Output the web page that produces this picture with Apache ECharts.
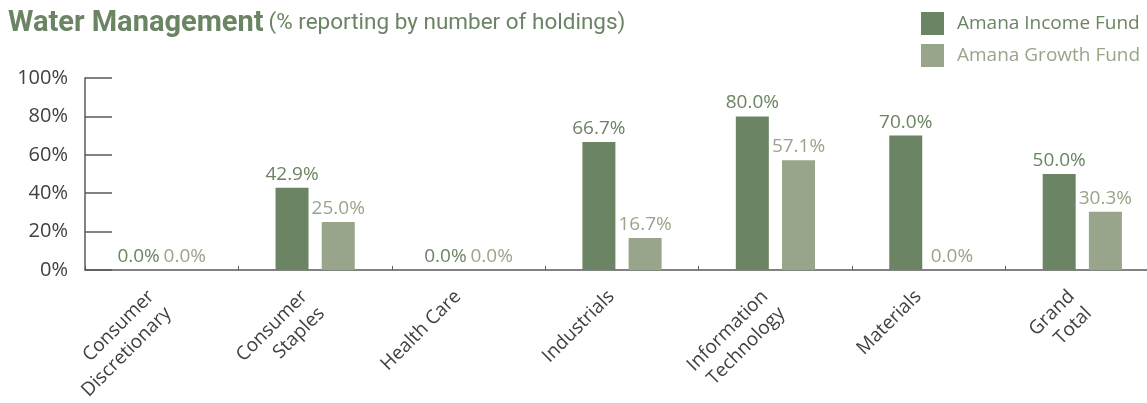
<!DOCTYPE html>
<html>
<head>
<meta charset="utf-8">
<script src="https://cdn.jsdelivr.net/npm/echarts@6/dist/echarts.min.js"></script>
<style>
  html, body { margin: 0; padding: 0; background: #fff; }
  #chart { width: 1147px; height: 403px; }
</style>
</head>
<body>
<div id="chart"></div>
<script>
const categories = [
  'Consumer\nDiscretionary',
  'Consumer\nStaples',
  'Health Care',
  'Industrials',
  'Information\nTechnology',
  'Materials',
  'Grand\nTotal'
]
const incomeFund = [0, 42.9, 0, 66.7, 80.0, 70.0, 50.0]
const growthFund = [0, 25.0, 0, 16.7, 57.1, 0, 30.3]
const yTicks = [0, 20, 40, 60, 80, 100]

const darkGreen = '#6b8463'
const lightGreen = '#98a58a'
const axisGray = '#5a5a5a'
const font = '"Open Sans", "Noto Sans", sans-serif'

const chart = echarts.init(document.getElementById('chart'))

const pctLabel = (color) => ({
  show: true,
  position: 'top',
  distance: 4,
  color: color,
  fontSize: 19,
  fontFamily: font,
  formatter: (p) => p.value.toFixed(1) + '%'
})

const option = {
  animation: false,
  title: {
    left: 8,
    top: 9,
    padding: 0,
    text: '{b|Water Management} {r|(% reporting by number of holdings)}',
    textStyle: {
      rich: {
        b: {
          fontFamily: 'Roboto, sans-serif',
          fontWeight: 'bold',
          fontSize: 29,
          color: darkGreen
        },
        r: {
          fontFamily: 'Roboto, sans-serif',
          fontWeight: 'normal',
          fontSize: 22.5,
          color: darkGreen
        }
      }
    }
  },
  legend: {
    orient: 'vertical',
    left: 921,
    top: 12,
    padding: 0,
    itemWidth: 23,
    itemHeight: 23,
    itemGap: 9,
    icon: 'rect',
    textStyle: { fontSize: 19, fontFamily: font, padding: [0, 0, 0, 8] },
    data: [
      { name: 'Amana Income Fund', textStyle: { color: darkGreen } },
      { name: 'Amana Growth Fund', textStyle: { color: lightGreen } }
    ]
  },
  grid: {
    left: 85,
    right: -12,
    top: 78,
    bottom: 133,
    outerBoundsMode: 'none'
  },
  xAxis: {
    type: 'category',
    data: categories,
    axisLine: { lineStyle: { color: axisGray, width: 1.5 } },
    axisTick: { show: true, inside: true, length: 4, lineStyle: { color: axisGray } },
    axisLabel: {
      rotate: 45,
      margin: -4,
      interval: 0,
      verticalAlign: 'top',
      padding: [0, 27, 0, 0],
      color: '#404040',
      fontSize: 19,
      fontFamily: font,
      lineHeight: 24
    }
  },
  yAxis: {
    type: 'value',
    min: yTicks[0],
    max: yTicks[yTicks.length - 1],
    interval: 20,
    axisLine: { show: true, lineStyle: { color: axisGray, width: 1.5 } },
    axisTick: { show: true, inside: true, length: 27, lineStyle: { color: axisGray, width: 1.5 } },
    splitLine: { show: false },
    axisLabel: {
      margin: 17,
      color: '#404040',
      fontSize: 20,
      fontFamily: font,
      formatter: '{value}%'
    }
  },
  series: [
    {
      name: 'Amana Income Fund',
      type: 'bar',
      data: incomeFund,
      barWidth: 33,
      barGap: '40%',
      itemStyle: { color: darkGreen },
      label: pctLabel(darkGreen)
    },
    {
      name: 'Amana Growth Fund',
      type: 'bar',
      data: growthFund,
      barWidth: 33,
      itemStyle: { color: lightGreen },
      label: pctLabel(lightGreen)
    }
  ]
}

chart.setOption(option)
</script>
</body>
</html>
